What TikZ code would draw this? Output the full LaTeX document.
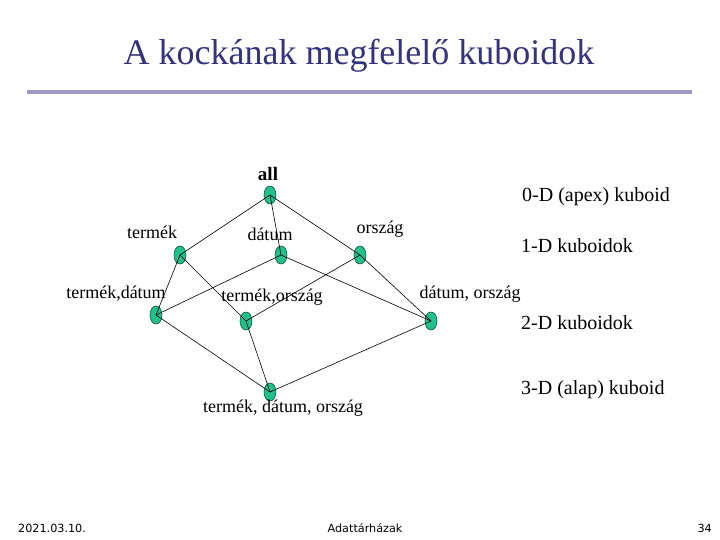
\documentclass[tikz,border=0pt]{standalone}
\usepackage{fontspec}
\setmainfont{Liberation Serif}
\newfontfamily\footfont{DejaVu Sans}
\usetikzlibrary{shapes.geometric}
\definecolor{titleblue}{HTML}{333380}
\definecolor{rulecol}{HTML}{9E99C4}
\definecolor{nodegreen}{HTML}{22C08C}
\definecolor{nodeedge}{HTML}{0E5A40}
\tikzset{
  cub/.style={ellipse, draw=nodeedge, fill=nodegreen, line width=0.6pt, minimum width=12pt, minimum height=18pt, inner sep=0pt},
  lbl/.style={font=\fontsize{18}{21}\selectfont, inner sep=0pt},
  side/.style={font=\fontsize{20}{23}\selectfont, inner sep=0pt, anchor=west},
  edge/.style={line width=0.6pt, black},
  foot/.style={font=\footfont\fontsize{11.2}{13}\selectfont, inner sep=0pt}
}
\begin{document}
\begin{tikzpicture}[x=1pt,y=-1pt]
\useasboundingbox[fill=white] (0,0) rectangle (720,540);
\node[font=\fontsize{36}{40}\selectfont, text=titleblue, inner sep=0pt] (title) at (359,56) {A kockának megfelelő kuboidok};
\draw[rulecol, line width=4pt] (27,92) coordinate (r1) -- (692,92) coordinate (r2);

% nodes
\node[cub] (all) at (270,195) {};
\node[cub] (t) at (180,255) {};
\node[cub] (d) at (281,255) {};
\node[cub] (o) at (360,255) {};
\node[cub] (td) at (156,315) {};
\node[cub] (to) at (246,321) {};
\node[cub] (do) at (431,321) {};
\node[cub] (tdo) at (270,392) {};

% edges
\foreach \a/\b in {all/t, all/d, all/o, t/td, t/to, d/td, d/do, o/to, o/do, td/tdo, to/tdo, do/tdo}
  \draw[edge] (\a.center) -- (\b.center);

% labels
\node[lbl, font=\bfseries\fontsize{19}{22}\selectfont] (lall) at (268,174) {all};
\node[lbl] (lt) at (152,232) {termék};
\node[lbl] (ld) at (270,234) {dátum};
\node[lbl] (lo) at (380,229) {ország};
\node[lbl] (ltd) at (116,294) {termék,dátum};
\node[lbl] (lto) at (272,297) {termék,ország};
\node[lbl] (ldo) at (470,294) {dátum, ország};
\node[lbl] (ltdo) at (283,408) {termék, dátum, ország};

\node[side] (s0) at (522,197) {0-D (apex) kuboid};
\node[side] (s1) at (521,246) {1-D kuboidok};
\node[side] (s2) at (521,323) {2-D kuboidok};
\node[side] (s3) at (521,390) {3-D (alap) kuboid};

% footer
\node[foot, anchor=west] (f1) at (18,528) {2021.03.10.};
\node[foot] (f2) at (365,528) {Adattárházak};
\node[foot, anchor=east] (f3) at (712,528) {34};
\end{tikzpicture}
\end{document}
